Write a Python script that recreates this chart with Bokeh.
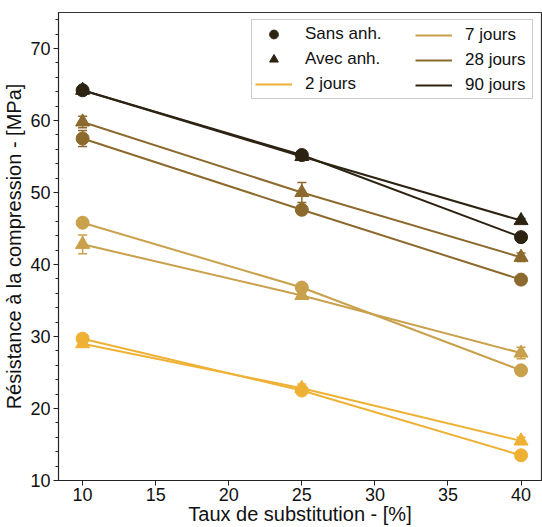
from bokeh.plotting import figure
from bokeh.models import Legend, LegendItem, Whisker, ColumnDataSource, TeeHead, FixedTicker
from bokeh.embed import file_html
from bokeh.resources import INLINE

x = [10, 25, 40]
ages = ["2 jours", "7 jours", "28 jours", "90 jours"]
colors = ["#EFB134", "#C9A04B", "#8C6A2E", "#2D2312"]
sans = {
    "2 jours": [29.7, 22.5, 13.5],
    "7 jours": [45.8, 36.8, 25.3],
    "28 jours": [57.5, 47.6, 37.9],
    "90 jours": [64.2, 55.2, 43.8],
}
sans_err = {
    "2 jours": [0.4, 0.5, 0.3],
    "7 jours": [0.4, 0.5, 0.3],
    "28 jours": [1.1, 0.4, 0.3],
    "90 jours": [0.6, 0.4, 0.3],
}
avec = {
    "2 jours": [29.0, 22.8, 15.5],
    "7 jours": [42.8, 35.7, 27.7],
    "28 jours": [59.8, 50.0, 41.0],
    "90 jours": [64.2, 55.0, 46.1],
}
avec_err = {
    "2 jours": [0.3, 0.6, 0.5],
    "7 jours": [1.3, 0.4, 0.8],
    "28 jours": [0.8, 1.4, 0.6],
    "90 jours": [0.4, 0.4, 0.3],
}
x_ticks = [10, 15, 20, 25, 30, 35, 40]
y_ticks = [10, 20, 30, 40, 50, 60, 70]

FONT = "Liberation Sans"

p = figure(width=542, height=527, x_range=(8.35, 41.4), y_range=(10, 75),
           output_backend="svg", toolbar_location=None,
           min_border_left=4, min_border_right=1, min_border_top=12, min_border_bottom=4)
p.grid.visible = False
p.outline_line_color = "#333333"
p.outline_line_width = 1.2

line_items = {}
for age, c in zip(ages, colors):
    for vals, errs, marker in ((sans[age], sans_err[age], "circle"), (avec[age], avec_err[age], "triangle")):
        src = ColumnDataSource(dict(x=x, y=vals,
                                    lo=[v - e for v, e in zip(vals, errs)],
                                    hi=[v + e for v, e in zip(vals, errs)]))
        r = p.line("x", "y", source=src, line_color=c, line_width=2)
        line_items[age] = r
        w = Whisker(base="x", lower="lo", upper="hi", source=src, line_color=c, line_width=1.5,
                    upper_head=TeeHead(size=9, line_color=c, line_width=1.5),
                    lower_head=TeeHead(size=9, line_color=c, line_width=1.5))
        p.add_layout(w)
        if marker == "circle":
            p.scatter("x", "y", source=src, marker="circle", size=13, fill_color=c, line_color=c)
        else:
            p.scatter("x", "y", source=src, marker="triangle", size=14, fill_color=c, line_color=c)

# legend marker proxies
pc = p.scatter([-100], [-100], marker="circle", size=13, fill_color="#2D2312", line_color="#2D2312")
pt = p.scatter([-100], [-100], marker="triangle", size=13, fill_color="#2D2312", line_color="#2D2312")

leg_common = dict(label_text_font=FONT, label_text_font_size="17px",
                  label_text_color="#111111", margin=0, padding=3, spacing=3,
                  glyph_width=37, label_standoff=13, label_height=22, glyph_height=22)

leg1 = Legend(items=[
    LegendItem(label="Sans anh.", renderers=[pc]),
    LegendItem(label="Avec anh.", renderers=[pt]),
    LegendItem(label="2 jours", renderers=[line_items["2 jours"]]),
], location=(193, 381), border_line_color="#cccccc", border_line_alpha=1,
   background_fill_alpha=1, label_width=224, **leg_common)
leg2 = Legend(items=[
    LegendItem(label="7 jours", renderers=[line_items["7 jours"]]),
    LegendItem(label="28 jours", renderers=[line_items["28 jours"]]),
    LegendItem(label="90 jours", renderers=[line_items["90 jours"]]),
], location=(357, 384), border_line_color=None, background_fill_alpha=0, **leg_common)
p.add_layout(leg1, "center")
p.add_layout(leg2, "center")

p.xaxis.ticker = FixedTicker(ticks=x_ticks)
p.yaxis.ticker = FixedTicker(ticks=y_ticks, minor_ticks=list(range(10, 76, 2)))
for ax in (p.xaxis, p.yaxis):
    ax.major_label_text_font = FONT
    ax.major_label_text_font_size = "18px"
    ax.axis_label_text_font = FONT
    ax.axis_label_text_font_size = "20px"
    ax.axis_label_text_font_style = "normal"
    ax.axis_line_color = "#222222"
    ax.major_tick_line_color = "#222222"
    ax.minor_tick_line_color = "#222222"
    ax.major_tick_out = 5
    ax.major_tick_in = 0
    ax.minor_tick_out = 3
    ax.minor_tick_in = 0
    ax.major_label_text_color = "#111111"
    ax.axis_label_text_color = "#111111"
p.xaxis.minor_tick_line_color = None
p.xaxis.axis_label = "Taux de substitution - [%]"
p.yaxis.axis_label = "Résistance à la compression - [MPa]"
p.xaxis.axis_label_standoff = -1
p.yaxis.axis_label_standoff = 2
p.xaxis.major_label_standoff = 2
p.yaxis.major_label_standoff = 3

open("out.html", "w").write(file_html(p, INLINE))
